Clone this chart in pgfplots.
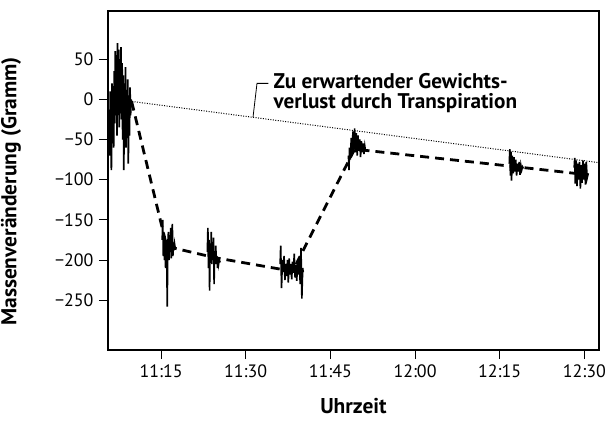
\documentclass[border=0pt]{standalone}
\usepackage{pgfplots}
\pgfplotsset{compat=1.18}
\usepackage{fontspec}
\setmainfont{PT Sans}
\begin{document}
\begin{tikzpicture}
\begin{axis}[
  scale only axis,
  width=491bp, height=339bp,
  xmin=5.6, xmax=92.6,
  ymin=-312, ymax=110,
  xtick={15,30,45,60,75,90},
  xticklabels={11:15,11:30,11:45,12:00,12:15,12:30},
  ytick={50,0,-50,-100,-150,-200,-250},
  yticklabels={50,0,−50,−100,−150,−200,−250},
  xtick pos=bottom, ytick pos=left,
  tick align=outside,
  major tick length=9bp,
  every tick/.style={black, line width=0.8pt},
  axis line style={line width=1.6pt},
  tick label style={font=\fontsize{18}{20}\selectfont},
  xticklabel style={yshift=-2bp},
  yticklabel style={xshift=-2bp},
  xlabel={\textbf{Uhrzeit}},
  ylabel={\textbf{Massenveränderung (Gramm)}},
  label style={font=\fontsize{21.5}{24}\selectfont},
  xlabel style={at={(axis description cs:0.5,-0.186)}, anchor=base},
  ylabel style={at={(axis description cs:-0.1975,0.4676)}, anchor=center},
  clip=false,
]
\coordinate (bl) at (rel axis cs:0,0);
\coordinate (tr) at (rel axis cs:1,1);
% expected loss line
\addplot[black, line width=1.0pt, dash pattern=on 1pt off 1.5pt] coordinates {(9.86,-2.6) (92.3,-78.5)};
% dashed connecting line
\addplot[black, line width=2.8pt, dash pattern=on 9bp off 6bp] coordinates {
(9.8,-3) (16.0,-183) (24.5,-197) (38.3,-214) (49.3,-62) (78,-84) (89.5,-93)};
% cluster 1
\addplot[black, line width=1.7pt] coordinates {
(5.8,-20) (5.9,-70) (6.0,10) (6.1,-50) (6.2,-88) (6.3,20) (6.4,-40) (6.5,5) (6.6,-60) (6.7,35)
(6.8,-30) (6.9,60) (7.0,-20) (7.1,55) (7.2,-45) (7.3,70) (7.4,-10) (7.5,62) (7.6,-35) (7.7,50)
(7.8,-5) (7.9,65) (8.0,-25) (8.1,45) (8.2,-50) (8.3,30) (8.4,-88) (8.5,20) (8.6,-40) (8.7,40)
(8.8,-60) (8.9,10) (9.0,-30) (9.1,25) (9.2,-80) (9.3,5) (9.4,-45) (9.5,15) (9.6,-20) (9.7,0)
(9.8,-10) (9.9,-2)};
% cluster 2
\addplot[black, line width=1.6pt] coordinates {
(15.2,-175) (15.3,-150) (15.4,-195) (15.5,-165) (15.6,-200) (15.7,-170) (15.8,-210) (15.9,-175)
(16.0,-195) (16.1,-258) (16.2,-180) (16.3,-165) (16.4,-200) (16.5,-172) (16.6,-190) (16.7,-160)
(16.8,-198) (16.9,-175) (17.0,-155) (17.1,-195) (17.2,-178) (17.3,-188) (17.4,-180) (17.5,-185)};
% cluster 3
\addplot[black, line width=1.6pt] coordinates {
(23.2,-190) (23.3,-160) (23.4,-210) (23.5,-175) (23.6,-238) (23.7,-185) (23.8,-200) (23.9,-165)
(24.0,-205) (24.1,-180) (24.2,-195) (24.3,-172) (24.4,-230) (24.5,-190) (24.6,-200) (24.7,-182)
(24.8,-205) (24.9,-195) (25.0,-210) (25.1,-198) (25.2,-205) (25.3,-200) (25.5,-203)};
% cluster 4
\addplot[black, line width=1.6pt] coordinates {
(36.1,-205) (36.2,-182) (36.35,-235) (36.5,-200) (36.65,-215) (36.8,-195) (36.95,-225) (37.1,-205)
(37.25,-220) (37.4,-200) (37.55,-228) (37.7,-198) (37.85,-218) (38.0,-205) (38.15,-224) (38.3,-202)
(38.45,-216) (38.6,-192) (38.75,-222) (38.9,-206) (39.05,-226) (39.2,-200) (39.35,-218) (39.5,-196)
(39.65,-230) (39.8,-185) (39.95,-248) (40.1,-210) (40.2,-215)};
% cluster 5
\addplot[black, line width=1.6pt] coordinates {
(48.2,-70) (48.3,-88) (48.4,-60) (48.55,-75) (48.7,-48) (48.85,-68) (49.0,-40) (49.15,-62)
(49.3,-36) (49.45,-66) (49.6,-42) (49.75,-70) (49.9,-45) (50.05,-64) (50.2,-50) (50.35,-72)
(50.5,-52) (50.65,-66) (50.8,-55) (50.95,-68) (51.1,-58) (51.2,-63)};
% cluster 6
\addplot[black, line width=1.6pt] coordinates {
(76.7,-80) (76.8,-62) (76.9,-95) (77.0,-65) (77.1,-101) (77.25,-70) (77.4,-92) (77.55,-72)
(77.7,-90) (77.85,-75) (78.0,-95) (78.15,-80) (78.3,-90) (78.45,-78) (78.6,-94) (78.75,-82)
(78.9,-88) (79.05,-84) (79.2,-86)};
% cluster 7
\addplot[black, line width=1.6pt] coordinates {
(88.2,-85) (88.3,-73) (88.4,-105) (88.55,-76) (88.7,-108) (88.85,-80) (89.0,-100) (89.15,-78)
(89.3,-111) (89.45,-82) (89.6,-104) (89.75,-76) (89.9,-100) (90.05,-80) (90.2,-106) (90.35,-78)
(90.5,-98) (90.7,-92)};
% annotation
\addplot[black, line width=0.8pt] coordinates {(31.3,-22) (32.0,19.9) (34.0,19.9)};
\node[anchor=base west, inner sep=0pt, font=\fontsize{21.3}{23}\selectfont\bfseries] at (axis cs:34.9,13.7) {Zu erwartender Gewichts-};
\node[anchor=base west, inner sep=0pt, font=\fontsize{21.3}{23}\selectfont\bfseries] at (axis cs:34.9,-11.7) {verlust durch Transpiration};
\end{axis}
\pgfresetboundingbox
\path ([xshift=-108bp,yshift=-72bp]bl) rectangle ([xshift=8bp,yshift=11bp]tr);
\end{tikzpicture}
\end{document}
